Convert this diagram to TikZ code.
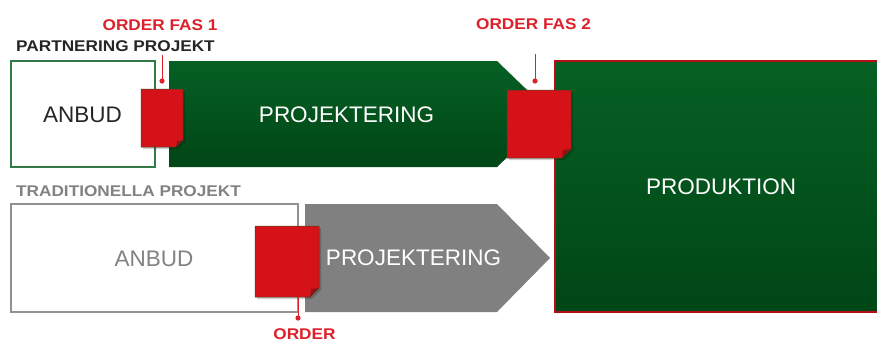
\documentclass[tikz,border=0pt]{standalone}
\usepackage{fontspec}
\setmainfont{Liberation Sans}
\usetikzlibrary{calc}
\definecolor{dgreenT}{RGB}{6,96,36}
\definecolor{dgreenB}{RGB}{0,70,22}
\definecolor{docred}{RGB}{212,18,23}
\definecolor{foldred}{RGB}{140,22,22}
\definecolor{docline}{RGB}{60,70,40}
\definecolor{labred}{RGB}{222,32,42}
\definecolor{boxgreen}{RGB}{50,122,72}
\definecolor{arrowgray}{RGB}{128,128,128}
\definecolor{boxgray}{RGB}{145,145,145}
\definecolor{txtgray}{RGB}{130,130,130}
\newcommand{\labtxt}[1]{\scalebox{1.11}[1]{#1}}
\begin{document}
\begin{tikzpicture}[x=1pt,y=-1pt,
  bigtxt/.style={font=\fontsize{22.5}{27}\selectfont, inner sep=0pt},
  labtxt/.style={font=\bfseries\fontsize{15.5}{18}\selectfont, inner sep=0pt},
  frame/.style={inner sep=0pt, outer sep=0pt},
  greenfill/.style={top color=dgreenT, bottom color=dgreenB},
  leader/.style={labred, line width=1pt},
  dotmark/.style={fill=labred, draw=none}
]
\useasboundingbox (0,0) rectangle (877,341);
\fill[white] (0,0) rectangle (877,341);

% ---------- top row ----------
\node[frame, draw=boxgreen, line width=2pt, fill=white,
      minimum width=144pt, minimum height=106pt] (anbud1) at (83,114) {};
\node[bigtxt, text=black!85] (anbud1t) at (82.5,115) {ANBUD};

\shade[greenfill] (169,61) -- (497,61) -- (552,114) -- (497,167) -- (169,167) -- cycle;
\node[bigtxt, text=white] (proj1) at (346.5,115) {PROJEKTERING};

% produktion
\node[frame, draw=docred!85!black, line width=1.5pt, greenfill,
      minimum width=325pt, minimum height=251pt] (prod) at (717.5,186.5) {};
\node[bigtxt, text=white] (prodt) at (721,186.5) {PRODUKTION};

% ---------- bottom row ----------
\node[frame, draw=boxgray, line width=2pt, fill=white,
      minimum width=287pt, minimum height=108pt] (anbud2) at (154.5,258) {};
\node[bigtxt, text=txtgray] (anbud2t) at (154,259) {ANBUD};

\fill[arrowgray] (305,204) -- (497,204) -- (550,258) -- (497,312) -- (305,312) -- cycle;
\node[bigtxt, text=white] (proj2) at (413.5,257.5) {PROJEKTERING};

% ---------- order documents ----------
\node[frame, minimum width=42pt, minimum height=58pt] (doc1) at (162,118) {};
\node[frame, minimum width=64pt, minimum height=68pt] (doc2) at (539,124) {};
\node[frame, minimum width=64pt, minimum height=71pt] (doc3) at (287,261.5) {};
\foreach \d/\c in {doc1/7,doc2/9,doc3/9}{
  \fill[black, opacity=0.18] ($(\d.north west)+(2,2)$) -- ($(\d.north east)+(2,2)$) --
     ($(\d.south east)+(2,2-\c)$) -- ($(\d.south east)+(2-\c,2)$) -- ($(\d.south west)+(2,2)$) -- cycle;
  \filldraw[fill=docred, draw=docline, line width=0.5pt]
     (\d.north west) -- (\d.north east) -- ($(\d.south east)+(0,-\c)$) --
     ($(\d.south east)+(-\c,0)$) -- (\d.south west) -- cycle;
  \fill[foldred] ($(\d.south east)+(0,-\c)$) -- ($(\d.south east)+(-\c,0)$) --
     ($(\d.south east)+(-\c+1,-\c+1)$) -- cycle;
}

% ---------- labels ----------
\node[labtxt, text=labred] (fas1) at (160,25.5) {\labtxt{ORDER FAS 1}};
\node[labtxt, text=black!85] (partner) at (115.5,46.5) {\labtxt{PARTNERING PROJEKT}};
\node[labtxt, text=labred] (fas2) at (533.5,24.5) {\labtxt{ORDER FAS 2}};
\node[labtxt, text=txtgray] (trad) at (128.5,191.5) {\labtxt{TRADITIONELLA PROJEKT}};
\node[labtxt, text=labred] (order) at (304.5,334) {\labtxt{ORDER}};

% leaders
\coordinate (l1s) at (162,55);
\coordinate (l1e) at (162,81);
\coordinate (l2s) at (535,54);
\coordinate (l2e) at (535,81);
\coordinate (l3s) at (298,297);
\coordinate (l3e) at (298,318);
\draw[leader] (l1s) -- (l1e);
\draw[leader] (l2s) -- (l2e);
\draw[leader] (l3s) -- (l3e);
\fill[dotmark] (l1e) circle (2.6);
\fill[dotmark] (l2e) circle (2.6);
\fill[dotmark] (l3e) circle (2.6);
\end{tikzpicture}
\end{document}
